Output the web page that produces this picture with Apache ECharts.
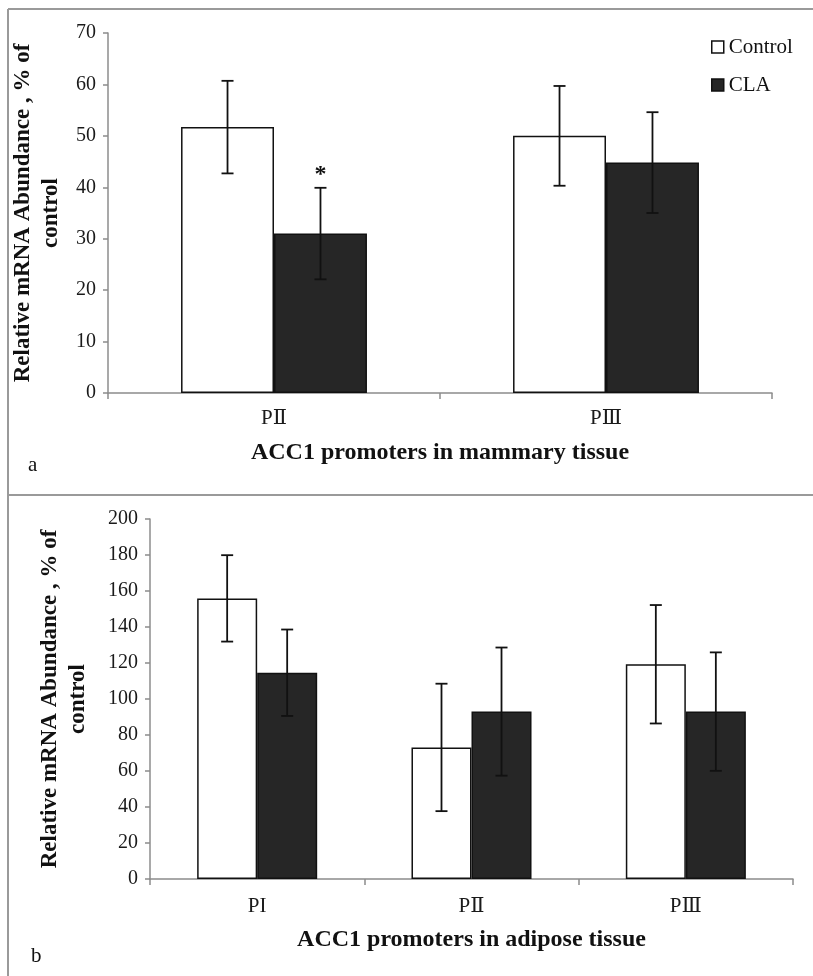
<!DOCTYPE html>
<html lang="en">

<head>
  <meta charset="UTF-8">
  <title>ACC1 promoters</title>
  <style>
    html, body { margin: 0; padding: 0; background: #fff; }
    #main { width: 813px; height: 976px; }
  </style>
</head>

<body>
<div id="main"></div>
<script src="https://cdn.jsdelivr.net/npm/echarts@6/dist/echarts.min.js"></script>
<script>
  // panel a: mammary tissue
  let catsTop = ['PⅡ', 'PⅢ'];
  let ctrlTop = [51.7, 50.0];
  let ctrlTopErr = [9.0, 9.7];
  let claTop = [31.0, 44.8];
  let claTopErr = [8.9, 9.8];
  let sigTop = ['*', ''];

  // panel b: adipose tissue
  let catsBot = ['PI', 'PⅡ', 'PⅢ'];
  let ctrlBot = [155.9, 73.1, 119.3];
  let ctrlBotErr = [24.0, 35.4, 32.9];
  let claBot = [114.6, 93.0, 93.0];
  let claBotErr = [24.0, 35.6, 32.9];

  const FONT = "'Liberation Serif', 'DejaVu Serif', serif";
  const AXIS_GRAY = '#8c8c8c';

  let chart = echarts.init(document.getElementById('main'));

  // [index, low, high, mark]
  function errData(vals, errs, marks) {
    return vals.map((v, i) => [i, v - errs[i], v + errs[i], marks ? marks[i] : '']);
  }

  function errRender(side) {
    return function (params, api) {
      let i = api.value(0);
      let lo = api.coord([i, api.value(1)]);
      let hi = api.coord([i, api.value(2)]);
      let band = api.size([1, 0])[0];
      let x = lo[0] + side * band * 0.14;
      let st = { stroke: '#111', lineWidth: 1.8 };
      let kids = [
        { type: 'line', shape: { x1: x, y1: hi[1], x2: x, y2: lo[1] }, style: st },
        { type: 'line', shape: { x1: x - 6, y1: hi[1], x2: x + 6, y2: hi[1] }, style: st },
        { type: 'line', shape: { x1: x - 6, y1: lo[1], x2: x + 6, y2: lo[1] }, style: st }
      ];
      let mark = api.value(3);
      if (mark) {
        kids.push({
          type: 'text',
          style: {
            x: x, y: hi[1] - 13, text: mark, align: 'center', verticalAlign: 'middle',
            font: 'bold 24px ' + FONT, fill: '#111'
          }
        });
      }
      return { type: 'group', children: kids };
    };
  }

  function yAxisCfg(gridIndex, max, step, gap) {
    return {
      type: 'value', gridIndex: gridIndex, min: 0, max: max, interval: step,
      name: 'Relative mRNA Abundance , % of\ncontrol',
      nameLocation: 'middle', nameRotate: 90, nameGap: gap,
      nameTextStyle: { fontFamily: FONT, fontWeight: 'bold', fontSize: 23, lineHeight: 28, color: '#111' },
      axisLine: { show: true, lineStyle: { color: AXIS_GRAY, width: 1.5 } },
      axisTick: { show: true, length: 5, lineStyle: { color: AXIS_GRAY, width: 1.5 } },
      axisLabel: { fontFamily: FONT, fontSize: 20, color: '#1a1a1a', margin: 12 },
      splitLine: { show: false }
    };
  }

  function xAxisCfg(gridIndex, cats, title, margin, gap) {
    return {
      type: 'category', gridIndex: gridIndex, data: cats,
      name: title, nameLocation: 'middle', nameGap: gap,
      nameTextStyle: { fontFamily: FONT, fontWeight: 'bold', fontSize: 24, color: '#111' },
      axisLine: { lineStyle: { color: AXIS_GRAY, width: 1.5 } },
      axisTick: { show: true, length: 6, lineStyle: { color: AXIS_GRAY, width: 1.5 } },
      axisLabel: { fontFamily: FONT, fontSize: 21, color: '#1a1a1a', margin: margin }
    };
  }

  let ctrlStyle = { color: '#ffffff', borderColor: '#111', borderWidth: 1.5 };
  let claStyle = { color: '#262626', borderColor: '#111', borderWidth: 1.5 };

  let option = {
    animation: false,
    backgroundColor: '#fff',
    graphic: [
      { type: 'line', shape: { x1: 8, y1: 9, x2: 813, y2: 9 }, style: { stroke: '#9a9a9a', lineWidth: 2 } },
      { type: 'line', shape: { x1: 8, y1: 9, x2: 8, y2: 976 }, style: { stroke: '#9a9a9a', lineWidth: 2 } },
      { type: 'line', shape: { x1: 8, y1: 495, x2: 813, y2: 495 }, style: { stroke: '#9a9a9a', lineWidth: 2 } },
      { type: 'text', left: 28, top: 455, style: { text: 'a', font: '21px ' + FONT, fill: '#111' } },
      { type: 'text', left: 31, top: 946, style: { text: 'b', font: '21px ' + FONT, fill: '#111' } }
    ],
    legend: {
      data: [
        { name: 'Control', itemStyle: ctrlStyle },
        { name: 'CLA', itemStyle: claStyle }
      ],
      orient: 'vertical', left: 706, top: 31,
      itemWidth: 12, itemHeight: 12, itemGap: 16,
      icon: 'rect',
      textStyle: { fontFamily: FONT, fontSize: 21, color: '#111', lineHeight: 22 }
    },
    grid: [
      { left: 108, top: 33, right: 41, height: 360 },
      { left: 150, top: 519, right: 20, height: 360 }
    ],
    xAxis: [
      xAxisCfg(0, catsTop, 'ACC1 promoters in mammary tissue', 15, 48),
      xAxisCfg(1, catsBot, 'ACC1 promoters in adipose tissue', 17, 49)
    ],
    yAxis: [
      yAxisCfg(0, 70, 10, 41),
      yAxisCfg(1, 200, 20, 58)
    ],
    series: [
      { name: 'Control', type: 'bar', xAxisIndex: 0, yAxisIndex: 0, data: ctrlTop,
        barGap: '0%', barCategoryGap: '44%', itemStyle: ctrlStyle },
      { name: 'CLA', type: 'bar', xAxisIndex: 0, yAxisIndex: 0, data: claTop,
        barGap: '0%', barCategoryGap: '44%', itemStyle: claStyle },
      { name: 'Control', type: 'bar', xAxisIndex: 1, yAxisIndex: 1, data: ctrlBot,
        barGap: '0%', barCategoryGap: '44%', itemStyle: ctrlStyle },
      { name: 'CLA', type: 'bar', xAxisIndex: 1, yAxisIndex: 1, data: claBot,
        barGap: '0%', barCategoryGap: '44%', itemStyle: claStyle },
      { type: 'custom', xAxisIndex: 0, yAxisIndex: 0, renderItem: errRender(-1),
        data: errData(ctrlTop, ctrlTopErr), z: 10 },
      { type: 'custom', xAxisIndex: 0, yAxisIndex: 0, renderItem: errRender(1),
        data: errData(claTop, claTopErr, sigTop), z: 10 },
      { type: 'custom', xAxisIndex: 1, yAxisIndex: 1, renderItem: errRender(-1),
        data: errData(ctrlBot, ctrlBotErr), z: 10 },
      { type: 'custom', xAxisIndex: 1, yAxisIndex: 1, renderItem: errRender(1),
        data: errData(claBot, claBotErr), z: 10 }
    ]
  };
  chart.setOption(option);
</script>
</body>

</html>
